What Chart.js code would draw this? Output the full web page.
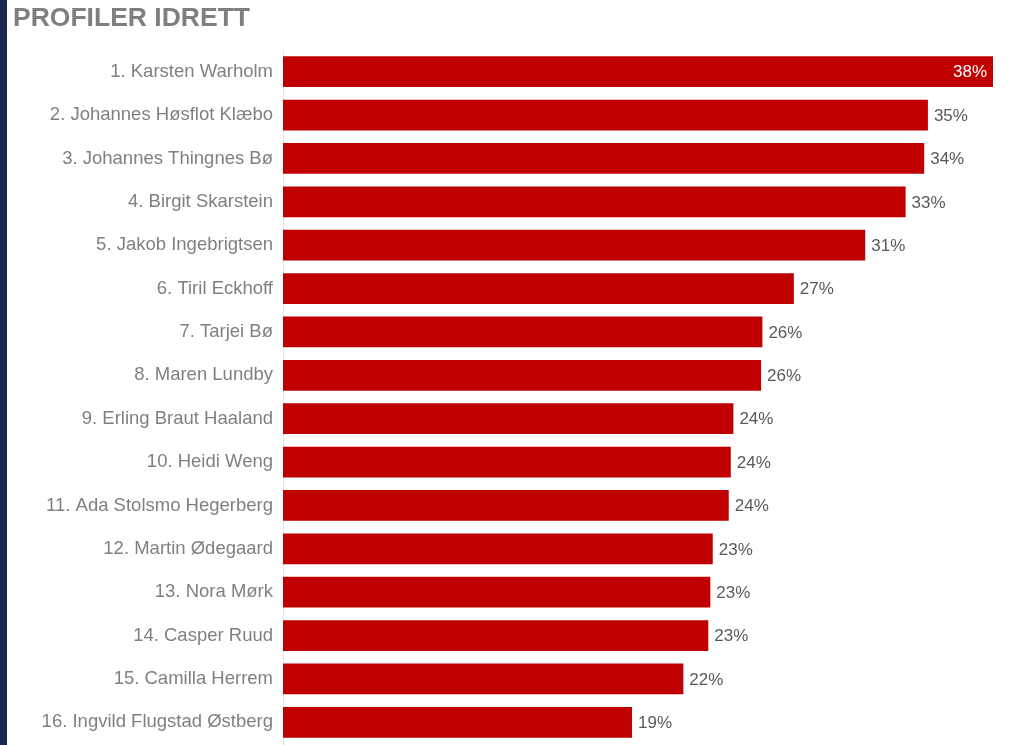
<!DOCTYPE html>
<html lang="no">
<head>
<meta charset="utf-8">
<title>Profiler idrett</title>
<script src="https://cdn.jsdelivr.net/npm/chart.js@4/dist/chart.umd.min.js"></script>
<style>
    html, body { margin: 0; padding: 0; background: #fff; overflow: hidden; }
    #wrap { position: relative; width: 1019px; height: 745px; overflow: hidden; }
    #strip { position: absolute; left: 0; top: 0; width: 7px; height: 745px; background: #172a4b; z-index: 2; }
    #tittel {
        position: absolute; left: 13px; top: 4px; z-index: 2;
        font: bold 26.5px "Liberation Sans", Arial, sans-serif; line-height: 1;
        color: #7f7f7f;
    }
    #chartProfiler { position: absolute; left: 0; top: 0; }
</style>
</head>
<body>
<div id="wrap">
    <div id="strip"></div>
    <div id="tittel">PROFILER IDRETT</div>
    <canvas id="chartProfiler" width="1019" height="745"></canvas>
</div>
<script>
const navn = [
    '1. Karsten Warholm',
    '2. Johannes Høsflot Klæbo',
    '3. Johannes Thingnes Bø',
    '4. Birgit Skarstein',
    '5. Jakob Ingebrigtsen',
    '6. Tiril Eckhoff',
    '7. Tarjei Bø',
    '8. Maren Lundby',
    '9. Erling Braut Haaland',
    '10. Heidi Weng',
    '11. Ada Stolsmo Hegerberg',
    '12. Martin Ødegaard',
    '13. Nora Mørk',
    '14. Casper Ruud',
    '15. Camilla Herrem',
    '16. Ingvild Flugstad Østberg'
];

// andel i prosent (avlest fra stolpene)
const andel = [38.18, 34.68, 34.48, 33.48, 31.31, 27.47, 25.78, 25.71, 24.22, 24.08, 23.97, 23.11, 22.98, 22.87, 21.53, 18.77];

const FONT = '"Liberation Sans", Arial, sans-serif';

// tegner verdien ved enden av hver stolpe, inni stolpen hvis det ikke er plass
const verdiEtiketter = {
    id: 'verdiEtiketter',
    afterDatasetsDraw(chart) {
        const ctx = chart.ctx;
        const meta = chart.getDatasetMeta(0);
        ctx.save();
        ctx.font = '17px ' + FONT;
        ctx.textBaseline = 'middle';
        meta.data.forEach((bar, i) => {
            const tekst = Math.round(andel[i]) + '%';
            const w = ctx.measureText(tekst).width;
            if (bar.x + 6 + w > chart.width - 4) {
                ctx.fillStyle = '#ffffff';
                ctx.textAlign = 'right';
                ctx.fillText(tekst, bar.x - 6, bar.y + 1);
            } else {
                ctx.fillStyle = '#595959';
                ctx.textAlign = 'left';
                ctx.fillText(tekst, bar.x + 6, bar.y + 1);
            }
        });
        ctx.restore();
    }
};

const ctx = document.getElementById('chartProfiler').getContext('2d');
new Chart(ctx, {
    type: 'bar',
    data: {
        labels: navn,
        datasets: [{
            data: andel,
            backgroundColor: '#c00000',
            borderWidth: 0,
            categoryPercentage: 1,
            barPercentage: 0.71
        }]
    },
    options: {
        indexAxis: 'y',
        responsive: false,
        animation: false,
        layout: { padding: { top: 50, right: 26, bottom: 1, left: 0 } },
        plugins: {
            legend: { display: false },
            tooltip: { enabled: false }
        },
        scales: {
            x: {
                display: false,
                min: 0,
                max: Math.max(...andel)
            },
            y: {
                grid: { display: false, drawTicks: false },
                border: { display: true, color: '#e6e6e6', width: 1 },
                ticks: {
                    color: '#808080',
                    padding: 10,
                    font: { family: FONT, size: 18.5 }
                },
                afterFit(scale) {
                    scale.width = 283;
                    scale.paddingTop = 0;
                    scale.paddingBottom = 0;
                }
            }
        }
    },
    plugins: [verdiEtiketter]
});
</script>
</body>
</html>
